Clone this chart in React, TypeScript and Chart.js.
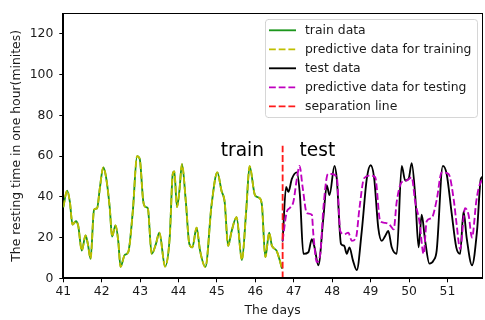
import React, { useEffect, useRef } from "react";
import { Chart, registerables } from "chart.js";

Chart.register(...registerables);

// ---------- data ----------
const trainDays = [
  41.0, 41.1, 41.17, 41.24, 41.33, 41.39, 41.48, 41.58, 41.64, 41.71, 41.8, 41.88, 41.95, 42.04, 42.11,
  42.21, 42.27, 42.36, 42.43, 42.49, 42.6, 42.69, 42.81, 42.92, 42.99, 43.08, 43.14, 43.2, 43.3, 43.41,
  43.5, 43.65, 43.77, 43.85, 43.89, 43.96, 44.02, 44.09, 44.19, 44.28, 44.36, 44.47, 44.56, 44.7, 44.86,
  45.01, 45.12, 45.2, 45.29, 45.38, 45.51, 45.65, 45.76, 45.85, 45.99, 46.1, 46.17, 46.26, 46.36, 46.43,
  46.55, 46.64, 46.69,
];
const trainValues = [
  35, 43, 37.6, 26.4, 28, 25.6, 13.6, 21, 16.8, 9.6, 33.6, 34.4, 44, 54.4, 50,
  34.4, 20.5, 26, 18.4, 5.6, 11.5, 12.8, 33, 60, 58.5, 38, 35, 34.4, 12, 16.8,
  22.4, 5.8, 20, 51.2, 52.4, 35, 42.5, 56, 37.6, 17, 15.2, 24.8, 13.6, 5.6, 36,
  52, 42.8, 37.6, 16, 23, 30, 9, 32.8, 55, 40.8, 39.5, 36, 10.4, 22.4, 16,
  13.6, 8.5, 5,
];
const predTrainValues = [
  35, 43, 37.6, 26.4, 28, 25.6, 13.6, 21, 16.8, 9.6, 33.6, 34.4, 44, 54.4, 50,
  34.4, 20.5, 26, 18.4, 5.6, 11.5, 12.8, 33, 60, 58.5, 38, 35, 34.4, 12, 16.8,
  22.4, 5.8, 20, 51.2, 52.4, 35, 42.5, 56, 37.6, 17, 15.2, 24.8, 13.6, 5.6, 36,
  52, 42.8, 37.6, 16, 23, 30, 9, 32.8, 55, 40.8, 39.5, 36, 10.4, 22.4, 16,
  13.6, 8.5, 5,
];

const testDays = [
  46.71, 46.8, 46.86, 46.95, 47.08, 47.16, 47.25, 47.38, 47.47, 47.54, 47.64, 47.77, 47.86, 47.93, 48.06,
  48.12, 48.23, 48.31, 48.38, 48.45, 48.54, 48.64, 48.77, 48.9, 49.0, 49.09, 49.2, 49.29, 49.38, 49.46,
  49.55, 49.68, 49.81, 49.9, 49.99, 50.07, 50.16, 50.25, 50.33, 50.42, 50.53, 50.64, 50.72, 50.88, 50.98,
  51.11, 51.23, 51.33, 51.42, 51.5, 51.64, 51.77, 51.87, 51.94,
];
const testValues = [
  18.4, 44.8, 42.4, 48.8, 52, 40.8, 12, 12.8, 19.2, 15.2, 6.4, 29.6, 45.6, 40.8, 55.2,
  48.8, 16.8, 16, 12, 15.2, 8.8, 4, 23.2, 48.8, 55.5, 49.6, 24.8, 18.4, 20.8, 23.2,
  15.2, 12, 55.2, 48, 48.8, 56.5, 40.8, 15.2, 31.2, 18.4, 7.2, 8.8, 13.6, 55.2, 51.2,
  32, 15.2, 12, 32.8, 20, 6.4, 23.2, 48.8, 50,
];

const predTestDays = [
  46.71, 46.82, 46.89, 46.99, 47.08, 47.15, 47.23, 47.34, 47.47, 47.51, 47.6, 47.69, 47.77, 47.89, 47.99,
  48.12, 48.21, 48.31, 48.42, 48.51, 48.62, 48.71, 48.83, 48.99, 49.12, 49.25, 49.38, 49.49, 49.6, 49.68,
  49.81, 49.94, 50.07, 50.16, 50.27, 50.38, 50.46, 50.59, 50.72, 50.85, 51.03, 51.16, 51.24, 51.33, 51.46,
  51.55, 51.64, 51.75, 51.81, 51.94,
];
const predTestValues = [
  18.4, 32.8, 34.4, 37.6, 48.8, 55.2, 44.8, 32, 31.2, 21.6, 8, 12, 34.4, 51.2, 51.2,
  49.6, 23.2, 21.6, 22.4, 18.4, 20, 34.4, 49.1, 50.4, 49.6, 28, 27.2, 26.4, 24, 37.6,
  47.2, 48, 49.6, 37.6, 28, 12, 28, 29.6, 38.4, 52, 51.2, 39.2, 26.4, 14.4, 34.4,
  31.2, 20, 37.6, 44, 50,
];

const separationDays = [46.71, 46.71];
const separationValues = [0, 65];

const seriesLabels = [
  "train data",
  "predictive data for training",
  "test data",
  "predictive data for testing",
  "separation line",
];

const xTicks = [41, 42, 43, 44, 45, 46, 47, 48, 49, 50, 51];
const yTicks = [0, 20, 40, 60, 80, 100, 120];

const noteTexts = ["train", "test"];
const noteDays = [45.1, 47.15];
const noteValues = [60, 60];

const xTitle = "The days";
const yTitle = "The resting time in one hour(minites)";

// ---------- styling ----------
const FONT = "DejaVu Sans";
const FS = 12.4;
const TEXT = "#1a1a1a";
const LW = 1.85;
const DASH = [6.8, 2.9];

const toPoints = (xs: number[], ys: number[]) => xs.map((x, i) => ({ x, y: ys[i] }));

const framePlugin = {
  id: "frame",
  afterDatasetsDraw(chart: any) {
    const { ctx, chartArea: a } = chart;
    ctx.save();
    ctx.font = `${FS * 1.5}px "${FONT}"`;
    ctx.fillStyle = "#000";
    ctx.textAlign = "left";
    ctx.textBaseline = "alphabetic";
    noteTexts.forEach((t, i) => {
      const px = chart.scales.x.getPixelForValue(noteDays[i]);
      const py = chart.scales.y.getPixelForValue(noteValues[i]);
      ctx.fillText(t, px, py);
    });
    ctx.strokeStyle = "#000";
    ctx.lineWidth = 1;
    ctx.setLineDash([]);
    ctx.strokeRect(Math.round(a.left) - 0.5, Math.round(a.top) + 0.5, Math.round(a.right - a.left) + 1, Math.round(a.bottom - a.top) - 1);
    ctx.restore();
  },
};

const legendPlugin = {
  id: "boxLegend",
  afterDraw(chart: any) {
    const { ctx, chartArea: a } = chart;
    const ds = chart.data.datasets;
    ctx.save();
    ctx.font = `${FS}px "${FONT}"`;
    const maxW = Math.max(...ds.map((d: any) => ctx.measureText(d.label).width));
    const rowH = 19;
    const handle = 27;
    const boxW = 4 + handle + 9 + maxW + 6;
    const boxH = rowH * (ds.length - 1) + 22;
    const right = Math.round(a.right) - 5;
    const top = Math.round(a.top) + 6;
    const left = Math.round(right - boxW);
    const r = 3;
    ctx.beginPath();
    ctx.moveTo(left + r, top + 0.5);
    ctx.lineTo(right - r, top + 0.5);
    ctx.arcTo(right + 0.5, top + 0.5, right + 0.5, top + r, r);
    ctx.lineTo(right + 0.5, top + boxH - r);
    ctx.arcTo(right + 0.5, top + boxH + 0.5, right - r, top + boxH + 0.5, r);
    ctx.lineTo(left + r, top + boxH + 0.5);
    ctx.arcTo(left + 0.5, top + boxH + 0.5, left + 0.5, top + boxH - r, r);
    ctx.lineTo(left + 0.5, top + r);
    ctx.arcTo(left + 0.5, top + 0.5, left + r, top + 0.5, r);
    ctx.closePath();
    ctx.fillStyle = "rgba(255,255,255,0.8)";
    ctx.fill();
    ctx.strokeStyle = "rgba(204,204,204,0.8)";
    ctx.lineWidth = 1;
    ctx.stroke();
    ds.forEach((d: any, i: number) => {
      const cy = top + 11.3 + i * rowH;
      ctx.beginPath();
      ctx.strokeStyle = d.borderColor;
      ctx.lineWidth = d.borderWidth;
      ctx.setLineDash(d.borderDash || []);
      ctx.lineCap = "butt";
      ctx.moveTo(left + 4, cy);
      ctx.lineTo(left + 4 + handle, cy);
      ctx.stroke();
      ctx.setLineDash([]);
      ctx.fillStyle = TEXT;
      ctx.textAlign = "left";
      ctx.textBaseline = "middle";
      ctx.fillText(d.label, left + 40, cy);
    });
    ctx.restore();
  },
};

export default function App() {
  const canvasRef = useRef<HTMLCanvasElement | null>(null);

  useEffect(() => {
    if (!canvasRef.current) return;
    const font = { family: FONT, size: FS };
    const base = {
      pointRadius: 0,
      pointHoverRadius: 0,
      cubicInterpolationMode: "monotone" as const,
      borderWidth: LW,
      borderJoinStyle: "round" as const,
      fill: false,
      clip: 0,
    };
    const chart = new Chart(canvasRef.current, {
      type: "line",
      data: {
        datasets: [
          { ...base, label: seriesLabels[0], data: toPoints(trainDays, trainValues), borderColor: "#1c961c", borderCapStyle: "round" as const, order: 5 },
          { ...base, label: seriesLabels[1], data: toPoints(trainDays, predTrainValues), borderColor: "#bfbf00", borderDash: DASH, borderCapStyle: "butt" as const, order: 4 },
          { ...base, label: seriesLabels[2], data: toPoints(testDays, testValues), borderColor: "#000000", borderCapStyle: "round" as const, order: 3 },
          { ...base, label: seriesLabels[3], data: toPoints(predTestDays, predTestValues), borderColor: "#bf00bf", borderDash: DASH, borderCapStyle: "butt" as const, order: 2 },
          { ...base, label: seriesLabels[4], data: toPoints(separationDays, separationValues), borderColor: "#ff1a1a", borderDash: DASH, borderCapStyle: "butt" as const, order: 1, cubicInterpolationMode: "default" as const, tension: 0 },
        ],
      },
      options: {
        responsive: false,
        animation: false,
        devicePixelRatio: 1,
        events: [],
        layout: { padding: { top: 6, right: 3, left: 0, bottom: 0 } },
        plugins: { legend: { display: false }, tooltip: { enabled: false } },
        scales: {
          x: {
            type: "linear",
            min: 41,
            max: 51.9,
            afterFit: (s: any) => { s.height = 41.7; },
            afterBuildTicks: (s: any) => { s.ticks = xTicks.map((v) => ({ value: v })); },
            ticks: { font, color: TEXT, padding: 2, maxRotation: 0, autoSkip: false, callback: (v: any) => String(v) },
            grid: { display: true, drawOnChartArea: false, drawTicks: true, tickLength: 4, color: "#000", tickWidth: 1 },
            border: { display: true, color: "#000", width: 1 },
            title: { display: true, text: xTitle, font, color: TEXT, padding: { top: 0, bottom: 2 } },
          },
          y: {
            type: "linear",
            min: 0,
            max: 130,
            afterFit: (s: any) => { s.width = 63.3; },
            afterBuildTicks: (s: any) => { s.ticks = yTicks.map((v) => ({ value: v })); },
            ticks: { font, color: TEXT, padding: 6, autoSkip: false, callback: (v: any) => String(v) },
            grid: { display: true, drawOnChartArea: false, drawTicks: true, tickLength: 4, color: "#000", tickWidth: 1 },
            border: { display: true, color: "#000", width: 1 },
            title: { display: true, text: yTitle, font, color: TEXT, padding: { top: 9, bottom: 0 } },
          },
        },
      },
      plugins: [framePlugin, legendPlugin],
    } as any);
    return () => chart.destroy();
  }, []);

  return (
    <div style={{ position: "absolute", left: 0, top: 0, width: 485, height: 320, background: "#fff" }}>
      <canvas ref={canvasRef} width={485} height={320} style={{ display: "block" }} />
    </div>
  );
}
